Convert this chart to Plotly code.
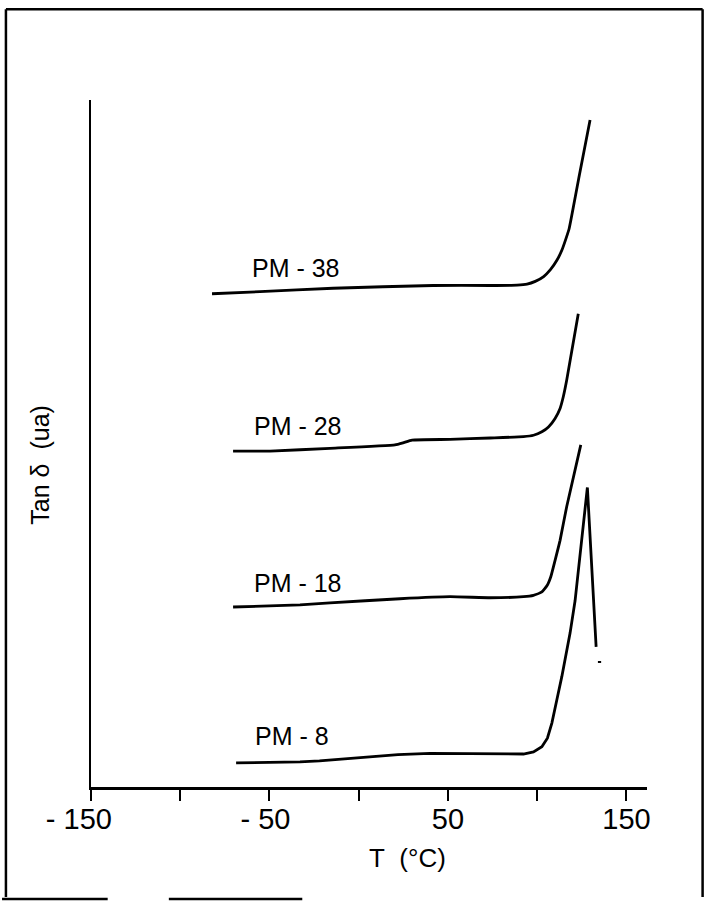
import plotly.graph_objects as go

# Temperature (°C) and tan delta (arbitrary units, curves stacked vertically)
temp_pm38 = [-82.2, -55.3, -14.4, 41.6, 73.7, 88.7, 94.3, 98.9, 103.6, 107.4, 111.1, 113.9, 116.2, 117.9, 123.7, 129.6]
tan_pm38 = [71.8, 72.1, 72.6, 73.0, 73.0, 73.05, 73.2, 73.6, 74.3, 75.3, 76.7, 78.2, 79.9, 81.3, 89.2, 97.1]

temp_pm28 = [-70.4, -49.7, -16.1, 20.3, 24.8, 29.9, 51.1, 73.7, 92.3, 97.9, 102.6, 106.3, 110.0, 112.8, 114.6, 116.5, 123.0]
tan_pm28 = [48.9, 48.9, 49.3, 49.8, 50.1, 50.5, 50.6, 50.8, 51.0, 51.2, 51.7, 52.4, 53.65, 55.1, 56.8, 59.2, 68.9]

temp_pm18 = [-70.4, -32.9, -16.1, 23.1, 51.1, 73.7, 92.3, 97.9, 102.6, 105.7, 107.6, 110.0, 112.8, 116.5, 124.4]
tan_pm18 = [26.2, 26.5, 26.8, 27.4, 27.7, 27.55, 27.7, 27.9, 28.4, 29.4, 30.6, 33.0, 35.9, 40.8, 49.8]

temp_pm8 = [-68.7, -50.0, -32.9, -22.0, -11.0, 0.0, 10.0, 22.0, 39.9, 67.9, 80.0, 92.3, 97.9, 102.6,
            105.7, 108.2, 111.0, 113.8, 118.4, 121.2, 128.1, 133.0]
tan_pm8 = [3.5, 3.55, 3.65, 3.8, 4.05, 4.3, 4.5, 4.7, 4.9, 4.9, 4.85, 4.8, 5.1, 5.86,
           7.1, 9.3, 12.7, 16.1, 22.4, 27.1, 43.6, 20.4]

# short stray dash just below the end of the PM-8 curve
temp_mark = [134.0, 135.8]
tan_mark = [18.2, 18.2]

series_names = ["PM - 38", "PM - 28", "PM - 18", "PM - 8"]
label_temp = [-61, -60, -60, -59]
label_tan = [75.5, 52.5, 29.7, 7.4]

tick_vals = [-150, -100, -50, 0, 50, 100, 150]
tick_text = ["- 150\u00a0\u00a0\u00a0", "", "- 50\u00a0", "", "50", "", "150"]

fig = go.Figure()
# smooth curves for the three upper samples; PM-8 keeps its sharp peak
for tx, ty, shape in [(temp_pm38, tan_pm38, "spline"), (temp_pm28, tan_pm28, "spline"),
                      (temp_pm18, tan_pm18, "spline"), (temp_pm8, tan_pm8, "linear")]:
    line = dict(color="black", width=2.8, shape=shape)
    if shape == "spline":
        line["smoothing"] = 0.4
    fig.add_trace(go.Scatter(x=tx, y=ty, mode="lines", line=line,
                             hoverinfo="skip", showlegend=False))
fig.add_trace(go.Scatter(x=temp_mark, y=tan_mark, mode="lines",
                         line=dict(color="black", width=2.0),
                         hoverinfo="skip", showlegend=False))

for name, lx, ly in zip(series_names, label_temp, label_tan):
    fig.add_annotation(x=lx, y=ly, xref="x", yref="y", text=name, showarrow=False,
                       xanchor="left", yanchor="middle",
                       font=dict(family="Liberation Sans", size=25, color="black"))

# axis titles
fig.add_annotation(x=0.57, y=-0.103, xref="paper", yref="paper", text="T\u00a0\u00a0(°C)",
                   showarrow=False, xanchor="center", yanchor="middle",
                   font=dict(family="Liberation Sans", size=26, color="black"))
fig.add_annotation(x=-0.092, y=0.469, xref="paper", yref="paper", text="Tan δ\u00a0\u00a0(ua)",
                   showarrow=False, textangle=-90, xanchor="center", yanchor="middle",
                   font=dict(family="Liberation Sans", size=25, color="black"))

# page frame
frame = dict(type="line", xref="paper", yref="paper", line=dict(color="black", width=2.5))
fig.add_shape(x0=-0.153, x1=1.1, y0=1.132, y1=1.132, **frame)
fig.add_shape(x0=-0.153, x1=-0.153, y0=1.132, y1=-0.16, **frame)
fig.add_shape(x0=1.1, x1=1.1, y0=1.132, y1=-0.16, **frame)
fig.add_shape(x0=-0.16, x1=0.03, y0=-0.163, y1=-0.163, **frame)
fig.add_shape(x0=0.14, x1=0.38, y0=-0.163, y1=-0.163, **frame)

fig.update_layout(
    width=705, height=903,
    margin=dict(l=91, r=58, t=100, b=116),
    paper_bgcolor="white", plot_bgcolor="white",
    xaxis=dict(range=[-150, 161.5], showgrid=False, zeroline=False,
               showline=True, linecolor="black", linewidth=2.5,
               ticks="outside", ticklen=11, tickwidth=2.2, tickcolor="black",
               tickvals=tick_vals, ticktext=tick_text, ticklabelstandoff=-7,
               tickfont=dict(family="Liberation Sans", size=29, color="black")),
    yaxis=dict(range=[0, 100], showgrid=False, zeroline=False,
               showline=True, linecolor="black", linewidth=2,
               showticklabels=False, ticks=""),
)

fig.write_html("out.html")
